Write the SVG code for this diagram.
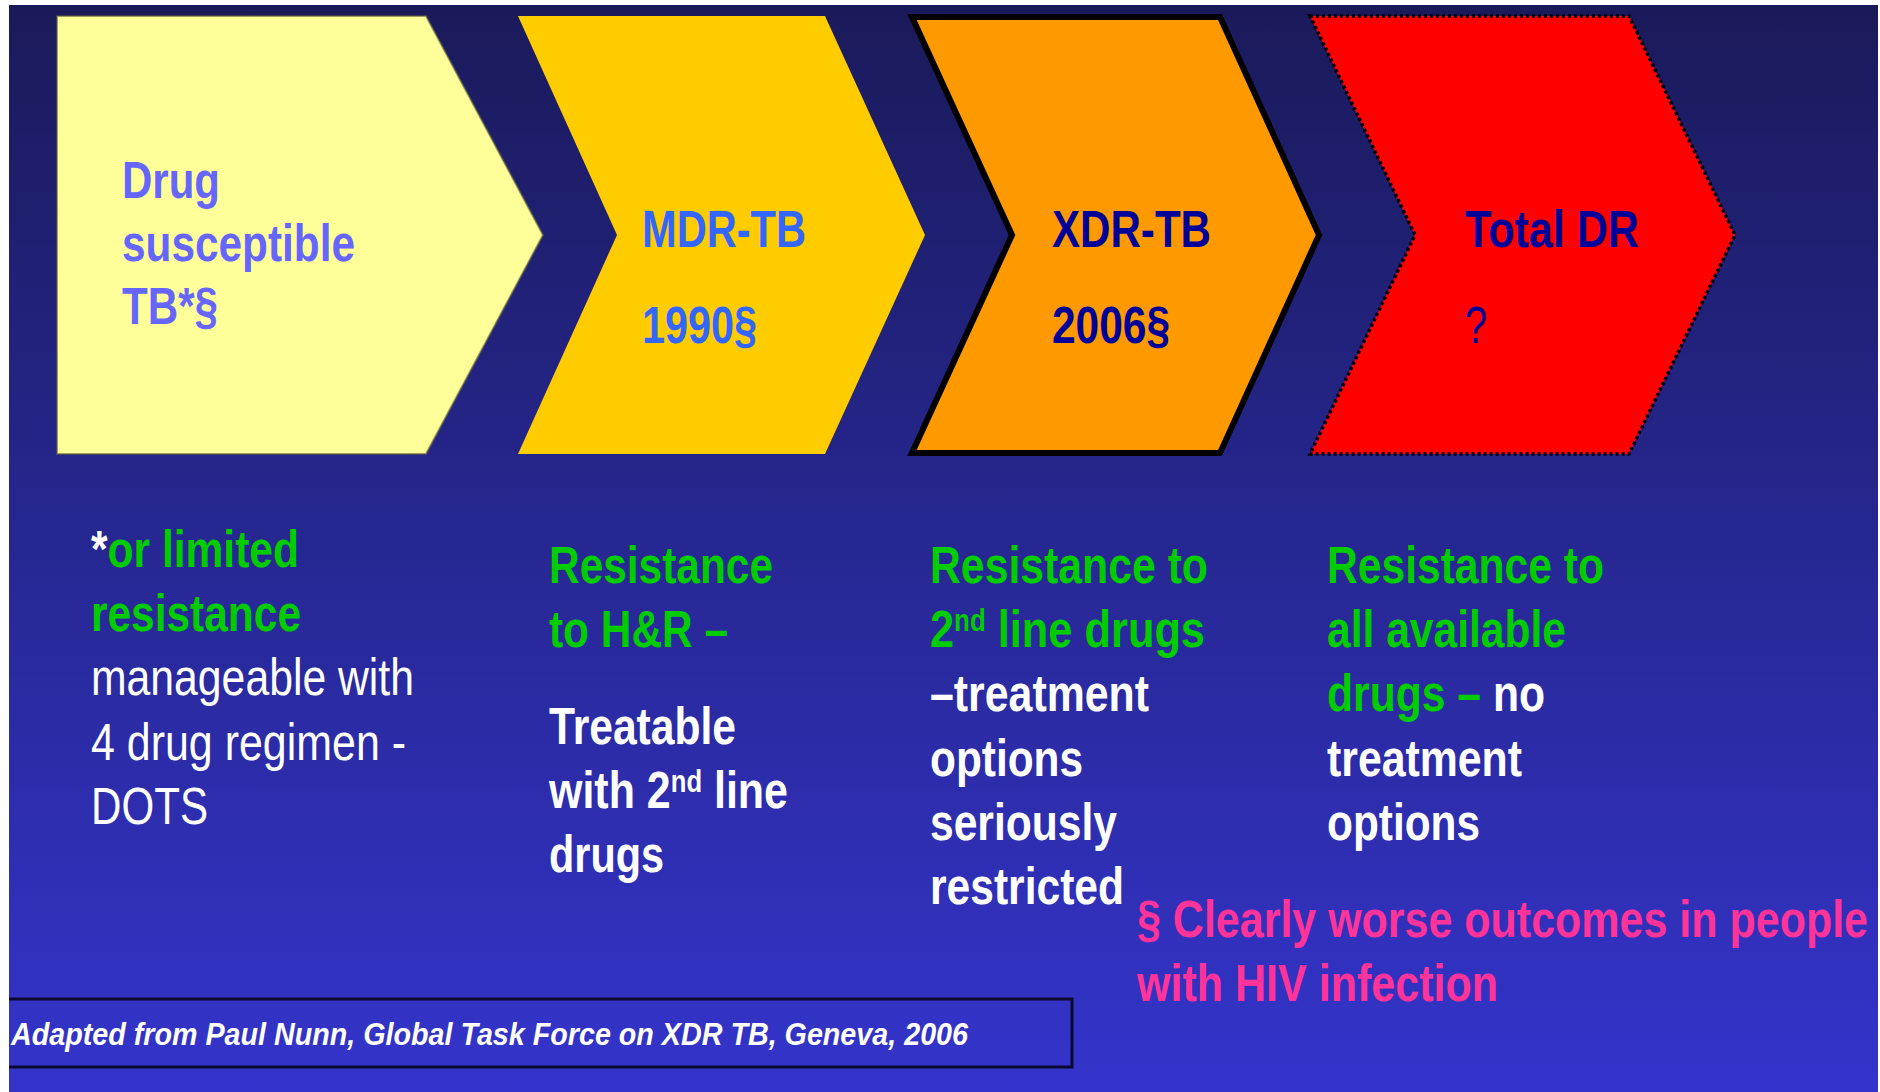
<svg xmlns="http://www.w3.org/2000/svg" width="1880" height="1092" viewBox="0 0 1880 1092">
<defs>
<linearGradient id="bg" x1="0" y1="0" x2="0" y2="1">
<stop offset="0" stop-color="#1a1a5a"/>
<stop offset="1" stop-color="#3434cc"/>
</linearGradient>
<style>
text{font-family:"Liberation Sans",Arial,sans-serif;font-size:52px;font-weight:bold}
.reg{font-weight:normal}
.c1{fill:#6666ff}
.c2{fill:#3366ff}
.c3{fill:#000099}
.g{fill:#00cc00}
.w{fill:#ffffff}
.p{fill:#ff3399}
.sup{font-size:31px}
.foot{font-size:32px;font-style:italic;fill:#ffffff}
</style>
</defs>
<rect x="0" y="0" width="1880" height="1092" fill="#ffffff"/>
<rect x="9" y="5" width="1869" height="1087" fill="url(#bg)"/>

<g id="node-drug-susceptible">
<path d="M57,16 L426,16 L543,235 L426,454 L57,454 Z" fill="#ffff99" stroke="#5a5a3a" stroke-opacity="0.6" stroke-width="2"/>
<text class="c1" x="122" y="198" textLength="98" lengthAdjust="spacingAndGlyphs">Drug</text>
<text class="c1" x="122" y="261" textLength="233" lengthAdjust="spacingAndGlyphs">susceptible</text>
<text class="c1" x="122" y="324" textLength="96" lengthAdjust="spacingAndGlyphs">TB*§</text>
</g>

<g id="node-mdr">
<path d="M518,16 L825,16 L925,235 L825,454 L518,454 L617,235 Z" fill="#ffcc00"/>
<text class="c2" x="642" y="247" textLength="164" lengthAdjust="spacingAndGlyphs">MDR-TB</text>
<text class="c2" x="642" y="343" textLength="115" lengthAdjust="spacingAndGlyphs">1990§</text>
</g>

<g id="node-xdr">
<path d="M912,17 L1220,17 L1319,235 L1220,453 L912,453 L1012,235 Z" fill="#ff9900" stroke="#000000" stroke-width="6" stroke-linejoin="miter"/>
<text class="c3" x="1052" y="247" textLength="159" lengthAdjust="spacingAndGlyphs">XDR-TB</text>
<text class="c3" x="1052" y="343" textLength="118" lengthAdjust="spacingAndGlyphs">2006§</text>
</g>

<g id="node-total-dr">
<path d="M1310,16 L1629,16 L1735,235 L1629,454 L1310,454 L1415,235 Z" fill="#ff0000" stroke="#000000" stroke-width="3.5" stroke-dasharray="3,3"/>
<text class="c3" x="1465" y="247" textLength="174" lengthAdjust="spacingAndGlyphs">Total DR</text>
<text class="c3 reg" x="1465" y="343" textLength="22" lengthAdjust="spacingAndGlyphs">?</text>
</g>

<g id="connectors"></g>

<g id="desc-drug-susceptible">
<text x="91" y="567" textLength="208" lengthAdjust="spacingAndGlyphs"><tspan class="w">*</tspan><tspan class="g">or limited</tspan></text>
<text class="g" x="91" y="631" textLength="210" lengthAdjust="spacingAndGlyphs">resistance</text>
<text class="w reg" x="91" y="695" textLength="323" lengthAdjust="spacingAndGlyphs">manageable with</text>
<text class="w reg" x="91" y="760" textLength="315" lengthAdjust="spacingAndGlyphs">4 drug regimen -</text>
<text class="w reg" x="91" y="824" textLength="117" lengthAdjust="spacingAndGlyphs">DOTS</text>
</g>

<g id="desc-mdr">
<text class="g" x="549" y="583" textLength="224" lengthAdjust="spacingAndGlyphs">Resistance</text>
<text class="g" x="549" y="647" textLength="179" lengthAdjust="spacingAndGlyphs">to H&amp;R –</text>
<text class="w" x="549" y="744" textLength="187" lengthAdjust="spacingAndGlyphs">Treatable</text>
<text class="w" x="549" y="808" textLength="239" lengthAdjust="spacingAndGlyphs">with 2<tspan class="sup" dy="-16">nd</tspan><tspan dy="16"> line</tspan></text>
<text class="w" x="549" y="872" textLength="115" lengthAdjust="spacingAndGlyphs">drugs</text>
</g>

<g id="desc-xdr">
<text class="g" x="930" y="583" textLength="278" lengthAdjust="spacingAndGlyphs">Resistance to</text>
<text class="g" x="930" y="647" textLength="275" lengthAdjust="spacingAndGlyphs">2<tspan class="sup" dy="-16">nd</tspan><tspan dy="16"> line drugs</tspan></text>
<text class="w" x="930" y="711" textLength="219" lengthAdjust="spacingAndGlyphs">–treatment</text>
<text class="w" x="930" y="776" textLength="153" lengthAdjust="spacingAndGlyphs">options</text>
<text class="w" x="930" y="840" textLength="187" lengthAdjust="spacingAndGlyphs">seriously</text>
<text class="w" x="930" y="904" textLength="194" lengthAdjust="spacingAndGlyphs">restricted</text>
</g>

<g id="desc-total-dr">
<text class="g" x="1327" y="583" textLength="277" lengthAdjust="spacingAndGlyphs">Resistance to</text>
<text class="g" x="1327" y="647" textLength="239" lengthAdjust="spacingAndGlyphs">all available</text>
<text x="1327" y="711" textLength="218" lengthAdjust="spacingAndGlyphs"><tspan class="g">drugs –</tspan><tspan class="w"> no</tspan></text>
<text class="w" x="1327" y="776" textLength="195" lengthAdjust="spacingAndGlyphs">treatment</text>
<text class="w" x="1327" y="840" textLength="153" lengthAdjust="spacingAndGlyphs">options</text>
</g>

<g id="note-hiv">
<text class="p" x="1137" y="937" textLength="731" lengthAdjust="spacingAndGlyphs">§ Clearly worse outcomes in people</text>
<text class="p" x="1137" y="1001" textLength="361" lengthAdjust="spacingAndGlyphs">with HIV infection</text>
</g>

<g id="source-box">
<path d="M9,999 H1072 V1067 H9" fill="none" stroke="#0a0a30" stroke-width="3"/>
<text class="foot" x="11" y="1045" textLength="957" lengthAdjust="spacingAndGlyphs">Adapted from Paul Nunn, Global Task Force on XDR TB, Geneva, 2006</text>
</g>
</svg>
